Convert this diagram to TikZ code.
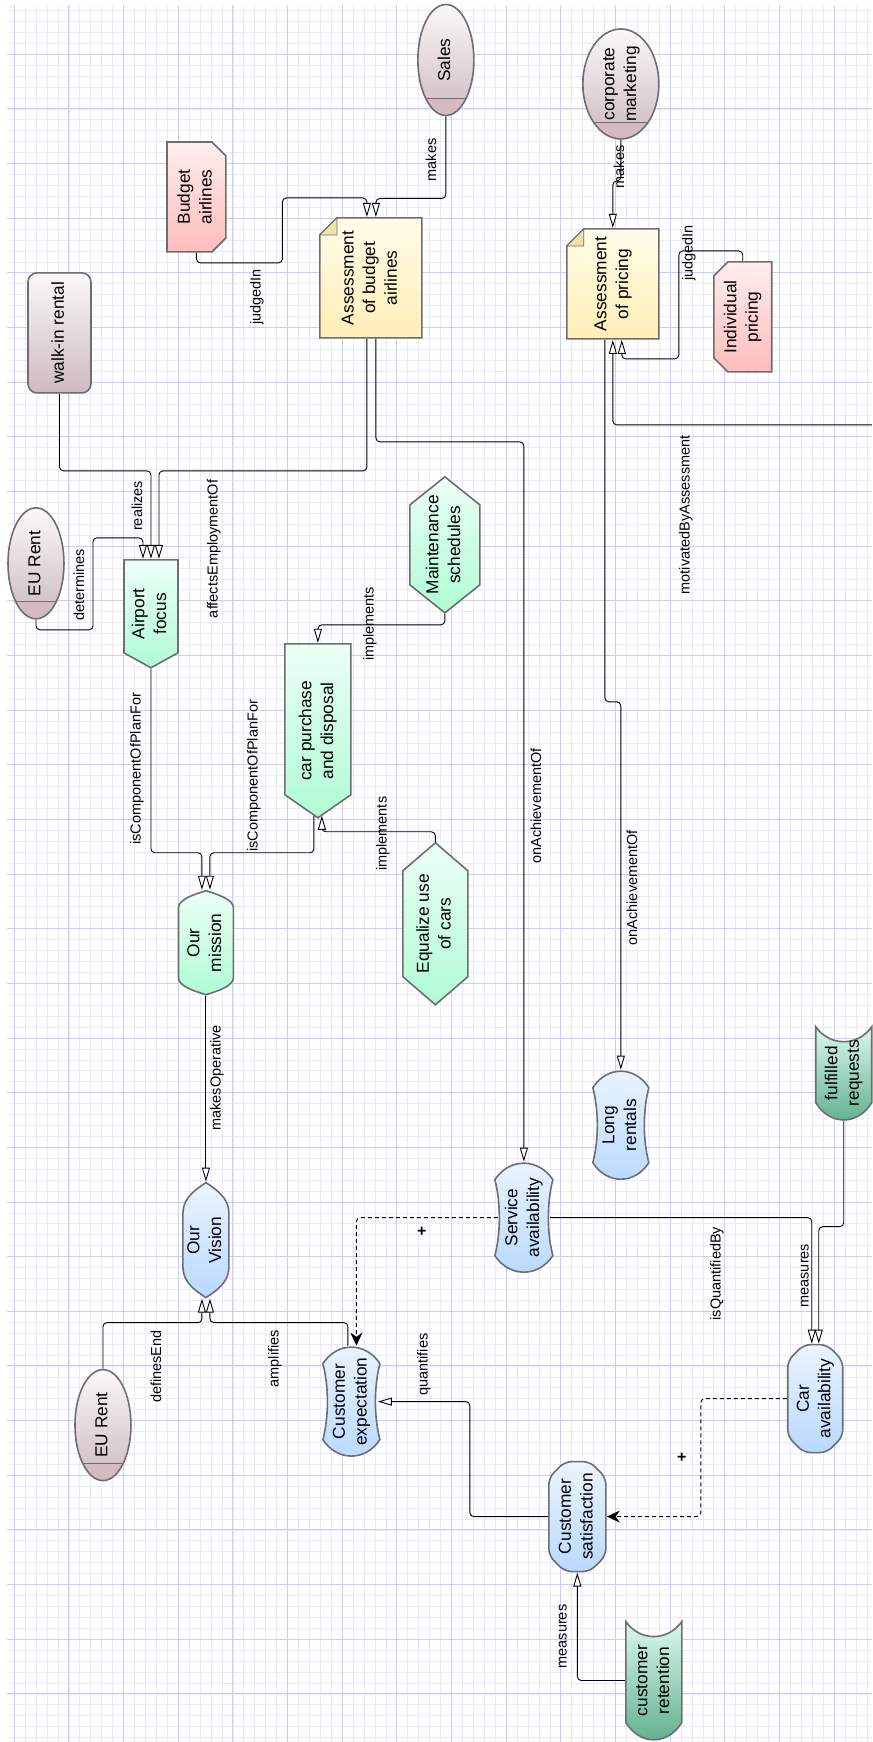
\documentclass[tikz,border=0pt]{standalone}
\usepackage{graphicx}
\usepackage{fontspec}
\setmainfont{Liberation Sans}
\usetikzlibrary{arrows.meta}

\definecolor{gridminor}{RGB}{232,232,255}
\definecolor{gridmajor}{RGB}{204,204,252}
\definecolor{edgegray}{RGB}{110,110,110}
\definecolor{actA}{RGB}{250,248,248}
\definecolor{actB}{RGB}{206,186,192}
\definecolor{actC}{RGB}{212,186,193}
\definecolor{pinkA}{RGB}{255,238,238}
\definecolor{pinkB}{RGB}{255,188,188}
\definecolor{yellowA}{RGB}{255,252,234}
\definecolor{yellowB}{RGB}{255,238,182}
\definecolor{foldcol}{RGB}{242,226,165}
\definecolor{greenA}{RGB}{236,255,246}
\definecolor{greenB}{RGB}{176,252,212}
\definecolor{blueA}{RGB}{236,244,255}
\definecolor{blueB}{RGB}{184,217,255}
\definecolor{tealA}{RGB}{218,248,236}
\definecolor{tealB}{RGB}{92,174,140}

\pgfdeclarelayer{grid}
\pgfdeclarelayer{shapes}
\pgfsetlayers{grid,shapes,main}

\newcommand\vt[1]{\rotatebox{90}{\begin{tabular}{@{}c@{}}#1\end{tabular}}}

% outlines, drawn round a named node: name, width, height (and extra)
\newcommand\actorshape[3]{\begin{scope}[shift={(#1.center)}]
  \shade[top color=actA, bottom color=actB] (0,0) ellipse [x radius=#2/2, y radius=#3/2];
  \begin{scope}
    \clip (0,0) ellipse [x radius=#2/2, y radius=#3/2];
    \fill[actC] (-#2/2,#3/2-17) rectangle (#2/2,#3/2);
    \draw[edgegray, line width=0.9pt] (-#2/2,#3/2-17) -- (#2/2,#3/2-17);
  \end{scope}
  \draw[outl] (0,0) ellipse [x radius=#2/2, y radius=#3/2];
\end{scope}}
\newcommand\rrectshape[3]{\begin{scope}[shift={(#1.center)}]
  \shadedraw[top color=actA, bottom color=actB, outl, rounded corners=9pt] (-#2/2,-#3/2) rectangle (#2/2,#3/2);
\end{scope}}
\newcommand\tagshape[4]{\begin{scope}[shift={(#1.center)}, xscale=#4]
  \shadedraw[top color=pinkA, bottom color=pinkB, outl] (-#2/2,-#3/2) -- (#2/2-14,-#3/2) -- (#2/2,-#3/2+14)
    -- (#2/2,#3/2-14) -- (#2/2-14,#3/2) -- (-#2/2,#3/2) -- cycle;
\end{scope}}
\newcommand\docshape[3]{\begin{scope}[shift={(#1.center)}]
  \shadedraw[top color=yellowA, bottom color=yellowB, outl] (-#2/2,-#3/2+17) -- (-#2/2+17,-#3/2) -- (#2/2,-#3/2)
    -- (#2/2,#3/2) -- (-#2/2,#3/2) -- cycle;
  \filldraw[fill=foldcol, draw=edgegray, line width=0.8pt] (-#2/2,-#3/2+17) -- (-#2/2+17,-#3/2) -- (-#2/2+17,-#3/2+17) -- cycle;
\end{scope}}
\newcommand\goalshape[4]{\begin{scope}[shift={(#1.center)}]
  \shadedraw[top color=greenA, bottom color=greenB, outl] (-#2/2,-#3/2) -- (#2/2,-#3/2) -- (#2/2,#3/2-#4)
    -- (0,#3/2) -- (-#2/2,#3/2-#4) -- cycle;
\end{scope}}
\newcommand\hexshape[3]{\begin{scope}[shift={(#1.center)}]
  \shadedraw[top color=greenA, bottom color=greenB, outl] (0,-#3/2) -- (#2/2,-#3/2+28) -- (#2/2,#3/2-28)
    -- (0,#3/2) -- (-#2/2,#3/2-28) -- (-#2/2,-#3/2+28) -- cycle;
\end{scope}}
\newcommand\lensshape[5]{\begin{scope}[shift={(#1.center)}]
  \shadedraw[top color=#5A, bottom color=#5B, outl] (-#2/2,-#3/2+#4)
    .. controls (-#2/2,-#3/2+#4*0.5) and (-#2/5,-#3/2+#4*0.2) .. (0,-#3/2)
    .. controls (#2/5,-#3/2+#4*0.2) and (#2/2,-#3/2+#4*0.5) .. (#2/2,-#3/2+#4)
    -- (#2/2,#3/2-#4)
    .. controls (#2/2,#3/2-#4*0.5) and (#2/5,#3/2-#4*0.2) .. (0,#3/2)
    .. controls (-#2/5,#3/2-#4*0.2) and (-#2/2,#3/2-#4*0.5) .. (-#2/2,#3/2-#4) -- cycle;
\end{scope}}
\newcommand\concaveshape[3]{\begin{scope}[shift={(#1.center)}]
  \shadedraw[top color=blueA, bottom color=blueB, outl] (-#2/2,-#3/2+17)
    .. controls (-#2/4,-#3/2-5) and (#2/4,-#3/2-5) .. (#2/2,-#3/2+17)
    .. controls (#2/2-6,-#3/2+40) and (#2/2-6,#3/2-40) .. (#2/2,#3/2-17)
    .. controls (#2/4,#3/2+5) and (-#2/4,#3/2+5) .. (-#2/2,#3/2-17)
    .. controls (-#2/2+6,#3/2-40) and (-#2/2+6,-#3/2+40) .. (-#2/2,-#3/2+17) -- cycle;
\end{scope}}
\newcommand\octashape[3]{\begin{scope}[shift={(#1.center)}]
  \shadedraw[top color=blueA, bottom color=blueB, outl, rounded corners=7pt] (-#2/2,-#3/2+16) -- (-#2/2+16,-#3/2)
    -- (#2/2-16,-#3/2) -- (#2/2,-#3/2+16) -- (#2/2,#3/2-16) -- (#2/2-16,#3/2) -- (-#2/2+16,#3/2)
    -- (-#2/2,#3/2-16) -- cycle;
\end{scope}}
\newcommand\bannershape[3]{\begin{scope}[shift={(#1.center)}]
  \shadedraw[top color=tealA, bottom color=tealB, outl] (-#2/2,-#3/2)
    .. controls (-#2/4,-#3/2+20) and (#2/4,-#3/2+20) .. (#2/2,-#3/2) -- (#2/2,#3/2-17)
    .. controls (#2/4,#3/2+6) and (-#2/4,#3/2+6) .. (-#2/2,#3/2-17) -- cycle;
\end{scope}}

\begin{document}
\begin{tikzpicture}[x=1pt,y=-1pt,
    every node/.style={font=\fontsize{17.3}{21.7}\selectfont},
    lbl/.style={font=\fontsize{14.5}{17}\selectfont, rotate=90, inner sep=0},
    plus/.style={font=\fontsize{16}{16}\selectfont\bfseries, inner sep=0},
    arr/.style={line width=0.9pt, rounded corners=4pt, -{Triangle[length=14pt,width=8pt,fill=white]}},
    dsh/.style={line width=0.9pt, rounded corners=4pt, dash pattern=on 4pt off 3pt, -{Stealth[length=13pt,width=12pt]}},
    outl/.style={draw=edgegray, line width=1.6pt},
    box/.style 2 args={inner sep=0, outer sep=0, minimum width=#1+2, minimum height=#2+2}]

\begin{pgfonlayer}{grid}
\fill[white] (0,0) rectangle (872,1742);
\foreach \k in {0,...,78} \draw[gridminor, line width=0.8pt] (14.3+\k*10.934,5) -- (14.3+\k*10.934,1742);
\foreach \k in {1,...,159} \draw[gridminor, line width=0.8pt] (7,-0.4+\k*10.934) -- (872,-0.4+\k*10.934);
\foreach \k in {0,...,15} \draw[gridmajor, line width=1pt] (14.3+\k*54.67,5) -- (14.3+\k*54.67,1742);
\foreach \k in {1,...,31} \draw[gridmajor, line width=1pt] (7,-0.4+\k*54.67) -- (872,-0.4+\k*54.67);
\end{pgfonlayer}
\useasboundingbox (0,0) rectangle (872,1742);

\node[box={56}{111}] (sales) at (446,60) {\vt{Sales}};
\node[box={76}{110}] (corp) at (621,84) {\vt{corporate\\marketing}};
\node[box={56}{111}] (euA) at (36,563.5) {\vt{EU Rent}};
\node[box={56}{111}] (euB) at (103,1425.5) {\vt{EU Rent}};
\node[box={63}{120}] (walkin) at (59.5,333) {\vt{walk-in rental}};
\node[box={59}{110}] (budget) at (196.5,197) {\vt{Budget\\airlines}};
\node[box={58}{110}] (indiv) at (743,317) {\vt{Individual\\pricing}};
\node[box={102}{120}] (assessB) at (371,278) {\vt{Assessment\\of budget\\airlines}};
\node[box={92}{110}] (assessP) at (613,284) {\vt{Assessment\\of pricing}};
\node[box={54}{108}] (airport) at (151,614) {\vt{Airport\\focus}};
\node[box={66}{174}] (carpur) at (318,731) {\vt{car purchase\\and disposal}};
\node[box={70}{136}] (maint) at (445,545) {\vt{Maintenance\\schedules}};
\node[box={65}{162}] (equal) at (435.5,924) {\vt{Equalize use\\of cars}};
\node[box={55}{104}] (mission) at (206,943) {\vt{Our\\mission}};
\node[box={46}{115}] (vision) at (206,1240.5) {\vt{Our\\Vision}};
\node[box={58}{110}] (servav) at (524,1218) {\vt{Service\\availability}};
\node[box={56}{109}] (longr) at (621,1125.5) {\vt{Long\\rentals}};
\node[box={57}{110}] (custexp) at (351.5,1402) {\vt{Customer\\expectation}};
\node[box={57}{110}] (custsat) at (577.5,1517) {\vt{Customer\\satisfaction}};
\node[box={55}{108}] (carav) at (815.5,1399) {\vt{Car\\availability}};
\node[box={56}{118}] (custret) at (654,1681) {\vt{customer\\retention}};
\node[box={56}{93}] (fulfil) at (844,1073.5) {\vt{fulfilled\\requests}};
\coordinate (offR) at (872,425);

\begin{pgfonlayer}{shapes}
\foreach \n/\w/\h in {sales/56/111, corp/76/110, euA/56/111, euB/56/111} \actorshape{\n}{\w}{\h};
\rrectshape{walkin}{63}{120}
\tagshape{budget}{59}{110}{1}
\tagshape{indiv}{58}{110}{-1}
\docshape{assessB}{102}{120}
\docshape{assessP}{92}{110}
\goalshape{airport}{54}{108}{15}
\goalshape{carpur}{66}{174}{23}
\hexshape{maint}{70}{136}
\hexshape{equal}{65}{162}
\lensshape{mission}{55}{104}{17}{green}
\lensshape{vision}{46}{115}{30}{blue}
\foreach \n/\w/\h in {servav/58/110, longr/56/109, custexp/57/110} \concaveshape{\n}{\w}{\h};
\octashape{custsat}{57}{110}
\octashape{carav}{55}{108}
\bannershape{custret}{56}{118}
\bannershape{fulfil}{56}{93}
\end{pgfonlayer}

\draw[arr] (sales.south) -- ++(0,82) -| ([xshift=5pt]assessB.north) node[lbl] (lMakesA) at (431,160) {makes};
\draw[arr] (budget.south) -- ++(0,10) -- ++(86,0) -- ++(0,-65) -| ([xshift=-4pt]assessB.north) node[lbl] (lJudgedA) at (257,297) {judgedIn};
\draw[arr] (corp.south) -- ++(0,41) -| (assessP.north) node[lbl] (lMakesP) at (619,167) {makes};
\draw[arr] (indiv.north) -- ++(0,-10) -- ++(-64,0) -- ++(0,108) -| ([xshift=9pt]assessP.south) node[lbl] (lJudgedP) at (689,253) {judgedIn};
\draw[arr] (offR) -| (assessP.south) node[lbl] (lMotiv) at (686,515) {motivatedByAssessment};
\draw[arr] ([xshift=-8pt]assessP.south) -- ++(0,362) -| (longr.north) node[lbl] (lAchL) at (632,888) {onAchievementOf};
\draw[arr] ([xshift=5pt]assessB.south) -- ++(0,103) -| (servav.north) node[lbl] (lAchS) at (536,806) {onAchievementOf};
\draw[arr] ([xshift=-4pt]assessB.south) -- ++(0,132) -| ([xshift=8pt]airport.north) node[lbl] (lAffects) at (214,549) {affectsEmploymentOf};
\draw[arr] (walkin.south) -- ++(0,77) -| (airport.north) node[lbl] (lRealizes) at (137,506) {realizes};
\draw[arr] (euA.south) -- ++(0,10) -- ++(57,0) -- ++(0,-92) -| ([xshift=-8pt]airport.north) node[lbl] (lDetermines) at (79,585) {determines};
\draw[arr] (maint.south) -- ++(0,11) -| (carpur.north) node[lbl] (lImplM) at (370,624) {implements};
\draw[arr] (equal.north) -- ++(0,-10) -| ([xshift=4pt,yshift=3pt]carpur.south) node[lbl] (lImplE) at (383,834) {implements};
\draw[arr] (airport.south) -- ++(0,184) -| ([xshift=-4pt]mission.north) node[lbl] (lCompA) at (137,769) {isComponentOfPlanFor};
\draw[arr] ([xshift=-4pt,yshift=3pt]carpur.south) -- ++(0,37) -| ([xshift=4pt]mission.north) node[lbl] (lCompC) at (254,776) {isComponentOfPlanFor};
\draw[arr] (mission.south) -- (vision.north) node[lbl] (lOper) at (217,1078) {makesOperative};
\draw[arr] (euB.north) -- ++(0,-46) -| ([xshift=-4pt]vision.south) node[lbl] (lDefines) at (156,1367) {definesEnd};
\draw[arr] ([xshift=-3.5pt]custexp.north) -- ++(0,-23) -| ([xshift=4pt]vision.south) node[lbl] (lAmpl) at (275,1359) {amplifies};
\draw[dsh] ([xshift=4pt]servav.west) -| ([xshift=5pt]custexp.north) node[plus] (plusA) at (422,1232) {+};
\draw[arr] ([xshift=-4pt]servav.east) -| ([xshift=-3.5pt]carav.north) node[lbl] (lQuantBy) at (717,1274) {isQuantifiedBy};
\draw[arr] (fulfil.south) -- ++(0,106) -| ([xshift=3.5pt]carav.north) node[lbl] (lMeasF) at (805,1276) {measures};
\draw[dsh] (carav.west) -- ++(-86,0) |- (custsat.east) node[plus] (plusB) at (682,1458) {+};
\draw[arr] (custsat.west) -- ++(-78,0) |- ([xshift=-3pt]custexp.east) node[lbl] (lQuant) at (424,1365) {quantifies};
\draw[arr] (custret.west) -| (custsat.south) node[lbl] (lMeasR) at (563,1637) {measures};
\end{tikzpicture}
\end{document}
